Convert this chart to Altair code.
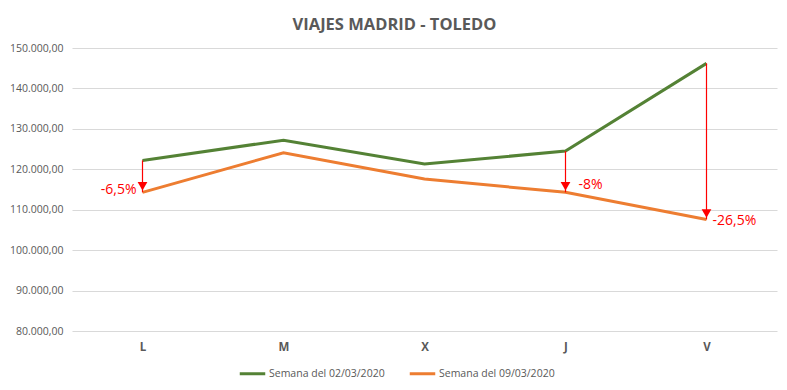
import altair as alt
import pandas as pd

days = ["L", "M", "X", "J", "V"]
semana1 = [122200, 127200, 121300, 124500, 146200]
semana2 = [114300, 124100, 117600, 114300, 107600]
series_names = ["Semana del 02/03/2020", "Semana del 09/03/2020"]
arrow_days = ["L", "J", "V"]
arrow_labels = ["-6,5%", "-8%", "-26,5%"]
y_ticks = [80000, 90000, 100000, 110000, 120000, 130000, 140000, 150000]

rows = []
for i, (d, a, b) in enumerate(zip(days, semana1, semana2)):
    rows.append({"idx": i, "dia": d, "serie": series_names[0], "valor": a})
    rows.append({"idx": i, "dia": d, "serie": series_names[1], "valor": b})
df = pd.DataFrame(rows)

arr = []
for d, lab in zip(arrow_days, arrow_labels):
    i = days.index(d)
    arr.append({"idx": i, "dia": d, "top": semana1[i], "bottom": semana2[i], "label": lab})
adf = pd.DataFrame(arr)

FONT = "Open Sans"
GRAY = "#595959"

day_expr = "[" + ",".join("'%s'" % d for d in days) + "][datum.value]"
xscale = alt.Scale(domain=[-0.5, len(days) - 0.5], nice=False, zero=False)
yscale = alt.Scale(domain=[80000, 150000])
xenc = alt.X("idx:Q", scale=xscale, title=None,
             axis=alt.Axis(values=list(range(len(days))), labelExpr=day_expr, domain=False,
                           ticks=False, grid=False, labelPadding=10, labelFontSize=11.5,
                           labelColor=GRAY, labelFont=FONT, labelFontWeight="bold"))

lines = alt.Chart(df).mark_line(strokeWidth=3).encode(
    x=xenc,
    y=alt.Y("valor:Q", scale=yscale, title=None,
            axis=alt.Axis(values=y_ticks, domain=False, ticks=False, grid=True,
                          gridColor="#d9d9d9", labelPadding=9, labelFontSize=10.5,
                          labelColor=GRAY, labelFont=FONT,
                          labelExpr="replace(replace(replace(format(datum.value, ',.2f'), ',', '#'), '.', ','), '#', '.')")),
    color=alt.Color("serie:N", scale=alt.Scale(domain=series_names, range=["#548235", "#ED7D31"]),
                    legend=alt.Legend(title=None, orient="none", direction="horizontal",
                                      legendX=166, legendY=311, symbolType="stroke",
                                      symbolStrokeWidth=3, symbolSize=650, labelFont=FONT,
                                      labelFontSize=10.5, labelColor=GRAY, columnPadding=18,
                                      symbolOffset=0, labelOffset=2)),
)

rules = alt.Chart(adf).mark_rule(color="#FF0000", strokeWidth=1.2).encode(
    x=alt.X("idx:Q", scale=xscale),
    y=alt.Y("top:Q", scale=yscale),
    y2="bottom:Q",
)

heads = alt.Chart(adf).mark_point(shape="triangle-down", filled=True, color="#FF0000",
                                  size=95, opacity=1, yOffset=-6).encode(
    x=alt.X("idx:Q", scale=xscale),
    y=alt.Y("bottom:Q", scale=yscale),
)

def lab(d, align, dx, dy):
    return alt.Chart(adf[adf.dia == d]).mark_text(color="#FF0000", align=align, dx=dx, dy=dy,
                                                   fontSize=14, font=FONT).encode(
        x=alt.X("idx:Q", scale=xscale), y=alt.Y("bottom:Q", scale=yscale), text="label:N")

chart = alt.layer(lines, rules, heads, lab("L", "right", -6, -2), lab("J", "left", 13, -7),
                  lab("V", "left", 6, 2)).properties(
    width=705, height=283,
    autosize=alt.AutoSizeParams(type="none"),
    padding={"left": 64, "top": 40, "right": 2, "bottom": 51},
    title=alt.Title("VIAJES MADRID - TOLEDO", font=FONT, fontSize=16.5, fontWeight="bold",
                    color=GRAY, anchor="middle", dx=-30, offset=10),
).configure_view(stroke=None)

chart.save("out.html", embed_options={"renderer": "svg", "actions": False})
